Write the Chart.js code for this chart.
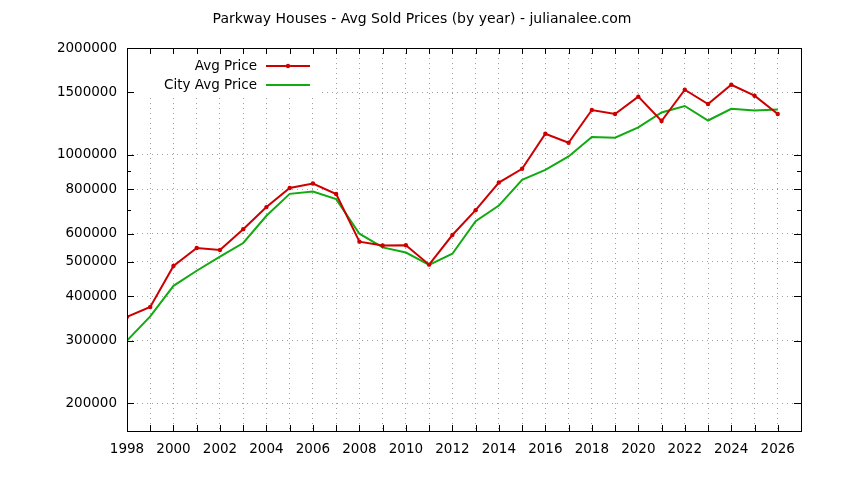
<!DOCTYPE html>
<html>
<head>
<meta charset="utf-8">
<script src="https://cdn.jsdelivr.net/npm/chart.js@4"></script>
<style>
  html, body { margin: 0; padding: 0; background: #fff; }
  #wrap { width: 844px; height: 480px; }
</style>
</head>
<body>
<div id="wrap"><canvas id="chart" width="844" height="480"></canvas></div>
<script>
// data
const years = [1998, 1999, 2000, 2001, 2002, 2003, 2004, 2005, 2006, 2007,
               2008, 2009, 2010, 2011, 2012, 2013, 2014, 2015, 2016, 2017,
               2018, 2019, 2020, 2021, 2022, 2023, 2024, 2025, 2026];
const avgPrice = [350000, 373000, 487000, 547000, 540000, 618000, 713000, 807000, 831000, 776000,
                  570000, 556000, 557000, 491000, 595000, 699000, 836000, 914000, 1147000, 1082000,
                  1338000, 1304000, 1459000, 1246000, 1526000, 1391000, 1576000, 1468000, 1304000];
const cityAvgPrice = [300000, 351000, 428000, 472000, 517000, 565000, 674000, 777000, 789000, 751000,
                      600000, 549000, 531000, 490000, 527000, 651000, 720000, 851000, 908000, 990000,
                      1123000, 1118000, 1195000, 1317000, 1373000, 1250000, 1349000, 1334000, 1343000];
const yTickValues = [200000, 300000, 400000, 500000, 600000, 800000, 1000000, 1500000, 2000000];
const yMinorTicks = [700000, 900000];
const titleText = 'Parkway Houses - Avg Sold Prices (by year) - julianalee.com';

const FONT = '"DejaVu Sans", Verdana, sans-serif';
const RED = '#cc0000';
const GREEN = '#11aa11';

const toPoints = (vals) => vals.map((v, i) => ({ x: years[i], y: v }));

// gnuplot style frame, inward ticks, title and key
const gnuplotFrame = {
    id: 'gnuplotFrame',
    beforeDatasetsDraw(chart) {
        const ctx = chart.ctx;
        const a = chart.chartArea;
        // key area hides the grid
        ctx.save();
        ctx.fillStyle = '#fff';
        ctx.fillRect(a.left + 1, a.top + 1, 318 - a.left, 94 - a.top);
        ctx.restore();
    },
    afterDraw(chart) {
        const ctx = chart.ctx;
        const a = chart.chartArea;
        const xs = chart.scales.x;
        const ys = chart.scales.y;
        ctx.save();
        ctx.strokeStyle = '#000';
        ctx.lineWidth = 1;
        ctx.beginPath();
        for (let yr = 1999; yr < 2027; yr++) {
            const px = Math.round(xs.getPixelForValue(yr)) + 0.5;
            ctx.moveTo(px, a.bottom); ctx.lineTo(px, a.bottom - 6);
            ctx.moveTo(px, a.top); ctx.lineTo(px, a.top + 6);
        }
        yTickValues.concat(yMinorTicks).forEach(v => {
            const len = yMinorTicks.includes(v) ? 4 : 7;
            const py = Math.round(ys.getPixelForValue(v)) + 0.5;
            ctx.moveTo(a.left, py); ctx.lineTo(a.left + len, py);
            ctx.moveTo(a.right, py); ctx.lineTo(a.right - len, py);
        });
        ctx.stroke();
        ctx.strokeRect(Math.round(a.left) + 0.5, Math.round(a.top) + 0.5,
                       Math.round(a.right - a.left), Math.round(a.bottom - a.top));

        // title
        ctx.fillStyle = '#000';
        ctx.font = '14px ' + FONT;
        ctx.textAlign = 'center';
        ctx.textBaseline = 'middle';
        ctx.fillText(titleText, 422, 19.5);

        // key
        const sets = chart.data.datasets;
        ctx.font = '13.5px ' + FONT;
        ctx.textAlign = 'right';
        sets.forEach((ds, i) => {
            const ky = 66 + i * 19;
            ctx.fillStyle = '#000';
            ctx.fillText(ds.label, 257, ky);
            ctx.strokeStyle = ds.borderColor;
            ctx.lineWidth = 2;
            ctx.beginPath();
            ctx.moveTo(266, ky); ctx.lineTo(310, ky);
            ctx.stroke();
            if (ds.pointRadius > 0) {
                ctx.fillStyle = ds.borderColor;
                ctx.beginPath();
                ctx.arc(288, ky, ds.pointRadius, 0, Math.PI * 2);
                ctx.fill();
            }
        });
        ctx.restore();
    }
};

new Chart(document.getElementById('chart'), {
    type: 'line',
    data: {
        datasets: [{
            label: 'Avg Price',
            data: toPoints(avgPrice),
            borderColor: RED,
            backgroundColor: RED,
            borderWidth: 2,
            pointRadius: 2.2,
            pointBorderWidth: 0,
            tension: 0
        }, {
            label: 'City Avg Price',
            data: toPoints(cityAvgPrice),
            borderColor: GREEN,
            backgroundColor: GREEN,
            borderWidth: 2,
            pointRadius: 0,
            tension: 0
        }]
    },
    options: {
        responsive: false,
        animation: false,
        events: [],
        layout: { padding: { top: 48, right: 43, left: 0, bottom: 0 } },
        plugins: {
            legend: { display: false },
            title: { display: false },
            tooltip: { enabled: false }
        },
        scales: {
            x: {
                type: 'linear',
                min: 1998,
                max: 2027,
                afterFit: (s) => { s.height = 49; },
                grid: { color: '#a0a0a0', lineWidth: 1, drawTicks: false },
                border: { display: false, dash: [1, 4] },
                ticks: {
                    stepSize: 1,
                    autoSkip: false,
                    maxRotation: 0,
                    padding: 10,
                    color: '#000',
                    font: { family: FONT, size: 13.5 },
                    callback: (v) => (v % 2 === 0 && v < 2027) ? String(v) : ''
                }
            },
            y: {
                type: 'logarithmic',
                min: 167000,
                max: 2000000,
                afterFit: (s) => { s.width = 127; },
                afterBuildTicks: (s) => { s.ticks = yTickValues.map(v => ({ value: v })); },
                grid: { color: '#a0a0a0', lineWidth: 1, drawTicks: false },
                border: { display: false, dash: [1, 4] },
                ticks: {
                    autoSkip: false,
                    padding: 10,
                    color: '#000',
                    font: { family: FONT, size: 13.5 },
                    callback: (v) => String(v)
                }
            }
        }
    },
    plugins: [gnuplotFrame]
});
</script>
</body>
</html>
